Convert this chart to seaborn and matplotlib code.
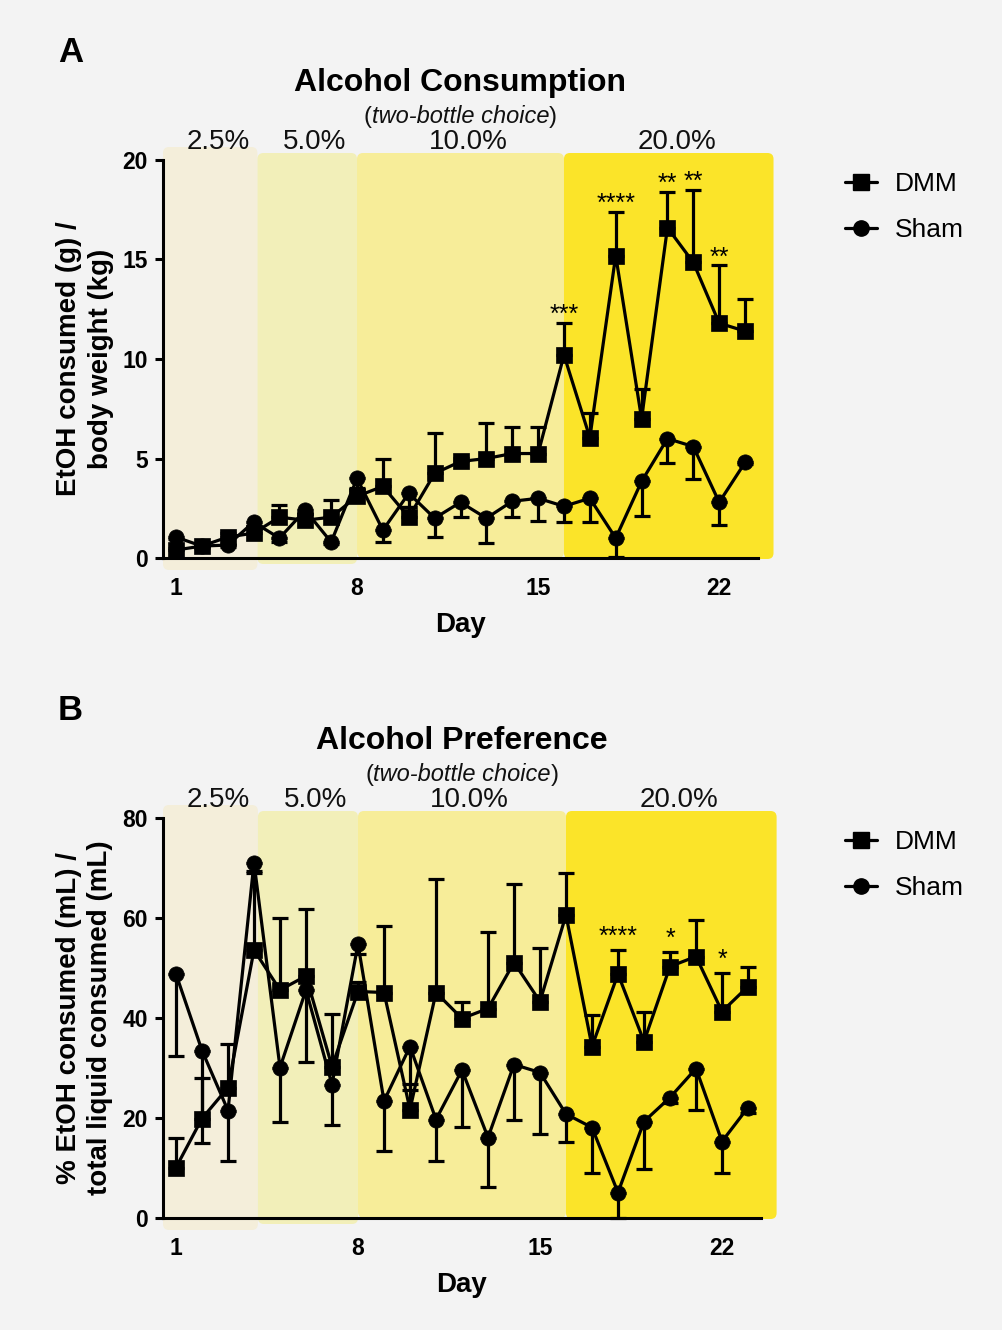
import numpy as np
import pandas as pd
import matplotlib
matplotlib.use("Agg")
import matplotlib.pyplot as plt
import seaborn as sns
from matplotlib.patches import FancyBboxPatch
from matplotlib.lines import Line2D

# ---------------- data ----------------
days = list(range(1, 24))
groups = ["DMM", "Sham"]
tick_days = [1, 8, 15, 22]

dmm_cons = [0.4, 0.6, 1.05, 1.25, 2.05, 1.9, 2.05, 3.1, 3.6, 2.05, 4.25, 4.85,
            5.0, 5.25, 5.25, 10.2, 6.05, 15.2, 7.0, 16.6, 14.85, 11.8, 11.4]
dmm_cons_err = [0.1, 0.1, 0.2, 0.2, 0.6, 0.3, 0.85, 0.3, 1.4, 0.5, 2.05, 0.2,
                1.8, 1.35, 1.35, 1.6, 1.25, 2.2, 1.5, 1.8, 3.65, 2.9, 1.6]
sham_cons = [1.05, 0.6, 0.65, 1.8, 1.0, 2.4, 0.8, 4.0, 1.4, 3.25, 2.0, 2.8,
             2.0, 2.85, 3.0, 2.6, 3.0, 1.0, 3.85, 6.0, 5.6, 2.8, 4.8]
sham_cons_err = [0.1, 0.1, 0.1, 0.2, 0.2, 0.2, 0.1, 0.5, 0.6, 0.7, 0.95, 0.75,
                 1.25, 0.8, 1.15, 0.8, 1.2, 0.93, 1.75, 1.25, 1.65, 1.15, 0.1]

dmm_pref = [10.1, 19.9, 26.1, 53.6, 45.6, 48.4, 30.3, 45.3, 45.1, 21.7, 45.1, 39.9,
            41.9, 51.1, 43.3, 60.6, 34.3, 48.8, 35.3, 50.3, 52.3, 41.3, 46.3]
dmm_pref_err = [6.0, 8.2, 8.7, 15.8, 14.5, 13.5, 10.6, 2.0, 13.3, 5.2, 22.8, 3.4,
                15.4, 15.8, 10.8, 8.5, 6.4, 4.8, 6.0, 3.0, 7.4, 7.8, 4.0]
sham_pref = [48.8, 33.5, 21.5, 71.1, 30.1, 45.6, 26.7, 54.8, 23.4, 34.3, 19.7, 29.6,
             16.1, 30.7, 29.1, 20.8, 18.1, 5.1, 19.3, 24.1, 29.9, 15.3, 22.1]
sham_pref_err = [16.4, 18.4, 10.1, 2.0, 10.8, 14.3, 8.0, 2.0, 10.0, 8.7, 8.3, 11.3,
                 9.8, 11.0, 12.3, 5.5, 9.0, 5.1, 9.4, 1.0, 8.2, 6.2, 1.0]

stars_cons_days = [16, 18, 20, 21, 22]
stars_cons_text = ["***", "****", "**", "**", "**"]
stars_pref_days = [18, 20, 22]
stars_pref_text = ["****", "*", "*"]

conc_labels = ["2.5%", "5.0%", "10.0%", "20.0%"]
band_edges = [0.5, 4.15, 8.0, 16.0, 24.1]
band_colors = ["#F4EEDA", "#F2EFB9", "#F7ED99", "#FBE429"]

# ---------------- style ----------------
W, H = 1002, 1330
BG = "#F3F3F3"
sns.set_style("ticks")
plt.rcParams["font.family"] = ["Liberation Sans", "DejaVu Sans"]
plt.rcParams["axes.linewidth"] = 2.2
for k in ["text.color", "axes.labelcolor", "xtick.color", "ytick.color",
          "axes.edgecolor"]:
    plt.rcParams[k] = "black"
PT = 72 / 100.0  # points per pixel

fig = plt.figure(figsize=(W / 100, H / 100), dpi=100, facecolor=BG)


def add_ax(left, right, top, bottom):
    return fig.add_axes([left / W, 1 - bottom / H, (right - left) / W, (bottom - top) / H])


# band vertical extents as pixel offsets (below axis, above top)
band_below_px = [12, 6, 0, 1]
band_above_px = [13, 7, 7, 7]


def draw_panel(ax, box, dmm, dmm_err, sham, sham_err, ymax, yticks, title, ylabel,
               letter, star_days, star_text, star_off_px, legend_top_px):
    left, right, top, bottom = box
    ax.set_facecolor("none")
    ax.set_xlim(0.5, 23.5)
    ax.set_ylim(0, ymax)
    wpx = right - left
    hpx = bottom - top
    x_per_px = 23.0 / wpx
    y_per_px = ymax / hpx

    # concentration bands
    r = 6 * x_per_px
    asp = (y_per_px / x_per_px)
    for i in range(4):
        x0, x1 = band_edges[i], band_edges[i + 1]
        y0 = -band_below_px[i] * y_per_px
        y1 = ymax + band_above_px[i] * y_per_px
        p = FancyBboxPatch((x0, y0), x1 - x0, y1 - y0,
                           boxstyle=f"round,pad=0,rounding_size={r}",
                           mutation_aspect=asp, facecolor=band_colors[i],
                           edgecolor="none", transform=ax.transData,
                           clip_on=False, zorder=0.2)
        ax.add_patch(p)
        ax.annotate(conc_labels[i], xy=((x0 + x1) / 2 + 0.3, 1),
                    xycoords=("data", "axes fraction"), xytext=(0, 11 * PT),
                    textcoords="offset points", ha="center", va="baseline",
                    fontsize=20, color="#111111")

    # lines with markers via seaborn
    df = pd.DataFrame({
        "day": days * 2,
        "value": list(dmm) + list(sham),
        "group": ["DMM"] * len(days) + ["Sham"] * len(days),
    })
    # one-sided error bars: DMM up, Sham down
    zeros = np.zeros(len(days))
    ax.errorbar(days, dmm, yerr=[zeros, dmm_err], fmt="none", ecolor="black",
                elinewidth=2.3, capsize=5.5, capthick=2.3, zorder=2, clip_on=False)
    ax.errorbar(days, sham, yerr=[sham_err, zeros], fmt="none", ecolor="black",
                elinewidth=2.3, capsize=5.5, capthick=2.3, zorder=2, clip_on=False)
    sns.lineplot(data=df, x="day", y="value", hue="group", style="group",
                 markers={"DMM": "s", "Sham": "o"}, dashes=False,
                 palette={"DMM": "black", "Sham": "black"}, markersize=11,
                 linewidth=2.3, markeredgecolor="black", markeredgewidth=0.5,
                 legend=False, errorbar=None, ax=ax, zorder=3, clip_on=False)

    # stars
    for d, s in zip(star_days, star_text):
        i = days.index(d)
        ax.annotate(s, xy=(d, dmm[i] + dmm_err[i]), xytext=(0, star_off_px * PT),
                    textcoords="offset points", ha="center", va="baseline",
                    fontsize=18, color="black")

    # axes styling
    sns.despine(ax=ax)
    ax.spines["left"].set_bounds(0, ymax)
    ax.set_xticks(tick_days)
    ax.set_yticks(yticks)
    ax.tick_params(axis="x", length=0, pad=13.5, labelsize=16.5, colors="black")
    ax.tick_params(axis="y", length=8 * PT, width=2.2, pad=5, labelsize=16.5,
                   colors="black")
    for lbl in ax.get_xticklabels() + ax.get_yticklabels():
        lbl.set_fontweight("bold")
    ax.set_xlabel("")
    ax.set_ylabel("")
    ax.annotate("Day", xy=(0.5, 0), xycoords="axes fraction", xytext=(0, -74 * PT),
                textcoords="offset points", ha="center", va="baseline",
                fontsize=20, fontweight="bold")

    # titles
    ax.annotate(title, xy=(0.5, 1), xycoords="axes fraction", xytext=(0, 69 * PT),
                textcoords="offset points", ha="center", va="baseline",
                fontsize=23, fontweight="bold")
    sub = ax.annotate("two-bottle choice", xy=(0.5, 1), xycoords="axes fraction",
                      xytext=(0, 37 * PT), textcoords="offset points", ha="center",
                      va="baseline", fontsize=17, fontstyle="italic", color="#111111")
    ax.annotate("(", xy=(0, 0), xycoords=sub, ha="right", va="bottom",
                fontsize=17, color="#111111")
    ax.annotate(")", xy=(1, 0), xycoords=sub, ha="left", va="bottom",
                fontsize=17, color="#111111")

    # y label & panel letter
    fig.text(85 / W, 1 - (top + bottom) / 2 / H, ylabel, rotation=90, ha="center",
             va="center", fontsize=20, fontweight="bold", linespacing=1.25,
             multialignment="center")
    fig.text(58 / W, 1 - (top - 98) / H, letter, ha="left", va="baseline",
             fontsize=25, fontweight="bold")

    # legend
    handles = [Line2D([], [], color="black", marker="s", markersize=11, lw=2.3),
               Line2D([], [], color="black", marker="o", markersize=11, lw=2.3)]
    ax.legend(handles, groups, loc="upper left",
              bbox_to_anchor=(845 / W, 1 - legend_top_px / H),
              bbox_transform=fig.transFigure, frameon=False, fontsize=19,
              handlelength=1.2, handletextpad=0.68, labelspacing=0.85,
              borderpad=0, borderaxespad=0)


axA = add_ax(163, 758, 160, 558)
draw_panel(axA, (163, 758, 160, 558), dmm_cons, dmm_cons_err, sham_cons, sham_cons_err,
           20, [0, 5, 10, 15, 20], "Alcohol Consumption",
           "EtOH consumed (g) /\nbody weight (kg)", "A",
           stars_cons_days, stars_cons_text, 1, 172)

axB = add_ax(163, 761, 818, 1218)
draw_panel(axB, (163, 761, 818, 1218), dmm_pref, dmm_pref_err, sham_pref, sham_pref_err,
           80, [0, 20, 40, 60, 80], "Alcohol Preference",
           "% EtOH consumed (mL) /\ntotal liquid consumed (mL)", "B",
           stars_pref_days, stars_pref_text, 6, 830)

fig.savefig("out.png", dpi=100, facecolor=BG)
